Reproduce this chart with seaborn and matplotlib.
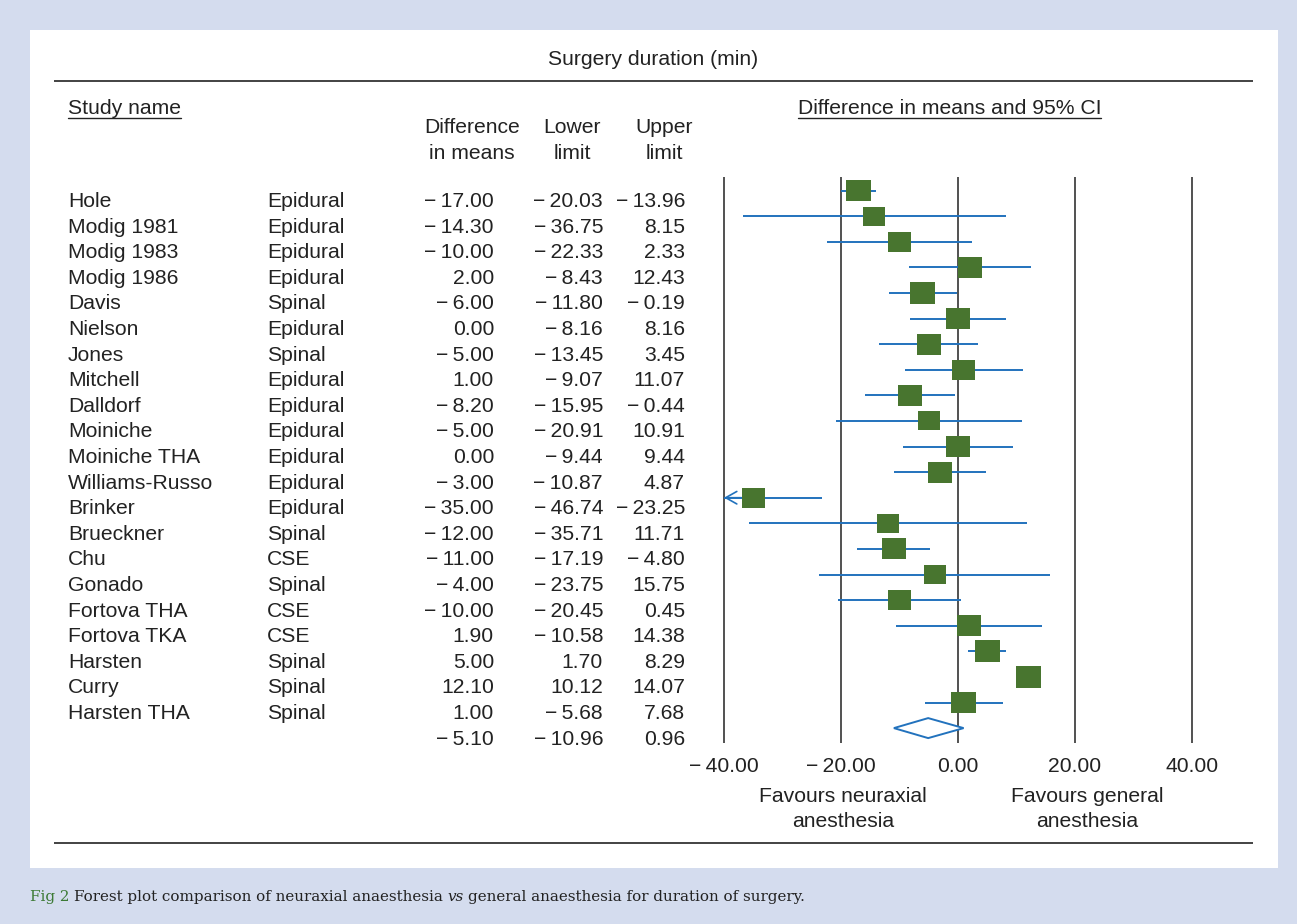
import numpy as np
import pandas as pd
import matplotlib
matplotlib.use("Agg")
import matplotlib.pyplot as plt
import matplotlib.transforms as mtransforms
from matplotlib.patches import Rectangle, Polygon
import seaborn as sns

# ---- data ----
studies = ["Hole", "Modig 1981", "Modig 1983", "Modig 1986", "Davis", "Nielson", "Jones",
           "Mitchell", "Dalldorf", "Moiniche", "Moiniche THA", "Williams-Russo", "Brinker",
           "Brueckner", "Chu", "Gonado", "Fortova THA", "Fortova TKA", "Harsten", "Curry",
           "Harsten THA"]
methods = ["Epidural", "Epidural", "Epidural", "Epidural", "Spinal", "Epidural", "Spinal",
           "Epidural", "Epidural", "Epidural", "Epidural", "Epidural", "Epidural", "Spinal",
           "CSE", "Spinal", "CSE", "CSE", "Spinal", "Spinal", "Spinal"]
diff = [-17.00, -14.30, -10.00, 2.00, -6.00, 0.00, -5.00, 1.00, -8.20, -5.00, 0.00, -3.00,
        -35.00, -12.00, -11.00, -4.00, -10.00, 1.90, 5.00, 12.10, 1.00]
lower = [-20.03, -36.75, -22.33, -8.43, -11.80, -8.16, -13.45, -9.07, -15.95, -20.91, -9.44,
         -10.87, -46.74, -35.71, -17.19, -23.75, -20.45, -10.58, 1.70, 10.12, -5.68]
upper = [-13.96, 8.15, 2.33, 12.43, -0.19, 8.16, 3.45, 11.07, -0.44, 10.91, 9.44, 4.87,
         -23.25, 11.71, -4.80, 15.75, 0.45, 14.38, 8.29, 14.07, 7.68]
# relative study weight (box size), estimated from the squares
weight = [25, 22, 23, 24, 25, 24, 24, 23, 24, 22, 23, 24, 23, 22, 24, 22, 23, 24, 25, 25, 25]
summary_mean, summary_lower, summary_upper = -5.10, -10.96, 0.96
ticks = [-40, -20, 0, 20, 40]

df = pd.DataFrame({"study": studies, "method": methods, "diff": diff,
                   "lower": lower, "upper": upper, "weight": weight})
df["row"] = np.arange(len(df))

GREEN = "#48752f"
BLUE = "#2272bd"
INK = "#222222"


def fmt(v):
    return ("\u2212\u2009" if v < 0 else "") + f"{abs(v):.2f}"


sns.set_style("white")
plt.rcParams["font.family"] = ["Liberation Sans", "DejaVu Sans"]
FS = 15.2

W, H = 1297, 924
fig = plt.figure(figsize=(W / 100, H / 100), dpi=100)
fig.patch.set_facecolor("#d4dcee")

# pixel-space layer for the table, rules and caption
bg = fig.add_axes([0, 0, 1, 1])
bg.set_xlim(0, W)
bg.set_ylim(H, 0)
bg.axis("off")
bg.add_patch(Rectangle((30, 30), 1248, 838, facecolor="white", edgecolor="none"))

# forest panel
ROW0, STEP = 190.5, 25.6
PX, X0 = 5.85, 958
lp, rp, tp, bp = 700, 1260, 170, 750
ax = fig.add_axes([lp / W, 1 - bp / H, (rp - lp) / W, (bp - tp) / H])
ax.patch.set_alpha(0)

ax.vlines(ticks, (177 - ROW0) / STEP, (743 - ROW0) / STEP, color=INK, lw=1.1, zorder=1)

lo_clip = df["lower"].clip(lower=ticks[0])
ax.hlines(df["row"], lo_clip, df["upper"], color=BLUE, lw=1.4, zorder=2)
for _, r in df[df["lower"] < ticks[0]].iterrows():
    ax.annotate("", xy=(ticks[0], r["row"]), xytext=(ticks[0] + 3, r["row"]),
                arrowprops=dict(arrowstyle="->,head_length=0.8,head_width=0.45",
                                color=BLUE, lw=1.2, shrinkA=0, shrinkB=0))

box = [(-1, -0.87), (1, -0.87), (1, 0.87), (-1, 0.87), (-1, -0.87)]
area = lambda px: (px * 72 / 100) ** 2
sns.scatterplot(data=df, x="diff", y="row", size="weight",
                sizes=(area(min(weight)), area(max(weight))),
                size_norm=(min(weight), max(weight)),
                marker=box, color=GREEN, linewidth=0, legend=False, ax=ax, zorder=3)

srow = len(df)
h = 10 / STEP
ax.add_patch(Polygon([(summary_lower, srow), (summary_mean, srow - h),
                      (summary_upper, srow), (summary_mean, srow + h)],
                     closed=True, facecolor="white", edgecolor=BLUE, lw=1.4, zorder=3))

ax.set_xlim((lp - X0) / PX, (rp - X0) / PX)
ax.set_ylim((bp - ROW0) / STEP, (tp - ROW0) / STEP)
ax.axis("off")

tick_tr = mtransforms.blended_transform_factory(ax.transData, bg.transData)
for t in ticks:
    ax.text(t, 772, fmt(t), transform=tick_tr, ha="center", va="baseline",
            fontsize=FS, color=INK)

# ---- table text ----
txt = dict(fontsize=FS, color=INK, va="baseline")
for i, r in df.iterrows():
    y = ROW0 + STEP * i + 16.5
    bg.text(68, y, r["study"], ha="left", **txt)
    bg.text(267, y, r["method"], ha="left", **txt)
    bg.text(494, y, fmt(r["diff"]), ha="right", **txt)
    bg.text(603, y, fmt(r["lower"]), ha="right", **txt)
    bg.text(685, y, fmt(r["upper"]), ha="right", **txt)
ys = ROW0 + STEP * srow + 16.5
bg.text(494, ys, fmt(summary_mean), ha="right", **txt)
bg.text(603, ys, fmt(summary_lower), ha="right", **txt)
bg.text(685, ys, fmt(summary_upper), ha="right", **txt)

bg.text(653.5, 65, "Surgery duration (min)", ha="center", **txt)
bg.text(472, 133, "Difference", ha="center", **txt)
bg.text(472, 159, "in means", ha="center", **txt)
bg.text(572, 133, "Lower", ha="center", **txt)
bg.text(572, 159, "limit", ha="center", **txt)
bg.text(664, 133, "Upper", ha="center", **txt)
bg.text(664, 159, "limit", ha="center", **txt)
bg.text(843, 802, "Favours neuraxial", ha="center", **txt)
bg.text(843, 827, "anesthesia", ha="center", **txt)
bg.text(1087, 802, "Favours general", ha="center", **txt)
bg.text(1087, 827, "anesthesia", ha="center", **txt)
t_study = bg.text(68, 114, "Study name", ha="left", **txt)
t_ci = bg.text(949.5, 114, "Difference in means and 95% CI", ha="center", **txt)

bg.hlines([81, 843], 54, 1253, color=INK, lw=1.2)

fig.canvas.draw()
renderer = fig.canvas.get_renderer()
for t in (t_study, t_ci):
    bb = t.get_window_extent(renderer)
    bg.plot([bb.x0, bb.x1], [117.5, 117.5], color=INK, lw=1.0)

# ---- caption ----
pieces = [("Fig 2", "#3d7a36", "normal"),
          ("Forest plot comparison of neuraxial anaesthesia", "#222222", "normal"),
          ("vs", "#222222", "italic"),
          ("general anaesthesia for duration of surgery.", "#222222", "normal")]


def place_caption(size):
    x = 30
    made = []
    for s, c, st in pieces:
        t = bg.text(x, 901, s, color=c, style=st, fontsize=size, va="baseline",
                    ha="left", family="DejaVu Serif")
        made.append(t)
        bb = t.get_window_extent(renderer)
        x = bb.x1 + size * 0.3 * 100 / 72
    return made, x


made, xend = place_caption(11)
for t in made:
    t.remove()
place_caption(11 * 778 / (xend - 30))

fig.savefig("out.png", dpi=100, facecolor=fig.get_facecolor())
